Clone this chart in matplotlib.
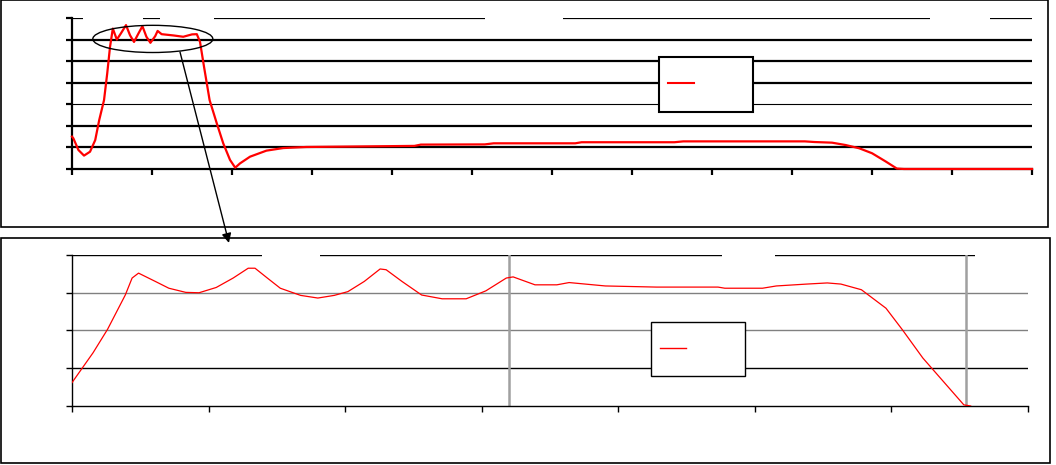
import matplotlib
matplotlib.use('Agg')
import matplotlib.pyplot as plt
from matplotlib.lines import Line2D
from matplotlib.patches import Rectangle, Ellipse, ConnectionPatch

# upper chart: whole run (x in tick units 0..12, y in grid units 0..7)
top_x = [0.0, 0.017, 0.08, 0.15, 0.225, 0.29, 0.34, 0.40, 0.44, 0.475, 0.51,
         0.56, 0.61, 0.675, 0.725, 0.775, 0.83, 0.88, 0.93, 0.98, 1.04, 1.07,
         1.12, 1.27, 1.39, 1.50, 1.56, 1.60, 1.65, 1.72, 1.81, 1.89, 1.975,
         2.04, 2.10, 2.225, 2.43, 2.64, 2.93, 3.48, 4.28, 4.36, 5.16, 5.27,
         6.29, 6.37, 7.53, 7.64, 9.16, 9.28, 9.50, 9.67, 9.84, 10.0, 10.17,
         10.31, 10.40, 12.0]
top_y = [1.5, 1.42, 0.88, 0.62, 0.80, 1.34, 2.27, 3.19, 4.43, 5.66, 6.51,
         6.00, 6.28, 6.67, 6.20, 5.89, 6.28, 6.62, 6.13, 5.85, 6.16, 6.40,
         6.25, 6.19, 6.13, 6.24, 6.25, 5.89, 4.74, 3.19, 2.11, 1.19, 0.42,
         0.06, 0.26, 0.57, 0.85, 0.97, 1.02, 1.04, 1.07, 1.13, 1.14, 1.19,
         1.19, 1.24, 1.24, 1.28, 1.28, 1.25, 1.22, 1.11, 0.96, 0.73, 0.35,
         0.02, 0.0, 0.0]

# lower chart: zoom on the plateau (x in tick units 0..7, y in grid units 0..4)
bot_x = [0.0, 0.154, 0.26, 0.39, 0.44, 0.487, 0.61, 0.709, 0.833, 0.93,
         1.056, 1.18, 1.29, 1.34, 1.43, 1.525, 1.674, 1.80, 1.92, 2.02,
         2.14, 2.256, 2.30, 2.416, 2.56, 2.71, 2.886, 3.03, 3.18, 3.23,
         3.39, 3.55, 3.64, 3.905, 4.28, 4.73, 4.78, 5.056, 5.157, 5.38,
         5.53, 5.63, 5.78, 5.96, 6.08, 6.23, 6.38, 6.53, 6.58]
bot_y = [0.62, 1.41, 2.03, 2.94, 3.39, 3.52, 3.30, 3.12, 3.01, 3.0,
         3.14, 3.39, 3.65, 3.65, 3.39, 3.12, 2.93, 2.86, 2.93, 3.03,
         3.30, 3.63, 3.61, 3.30, 2.94, 2.84, 2.84, 3.05, 3.39, 3.42,
         3.21, 3.21, 3.27, 3.18, 3.15, 3.15, 3.12, 3.12, 3.18, 3.23,
         3.26, 3.23, 3.08, 2.59, 2.02, 1.27, 0.65, 0.03, 0.0]
bot_markers = [3.2, 6.545]

top_grid = [1, 2, 3, 4, 5, 6, 7]
top_grid_lw = [1.6, 1.6, 0.8, 1.6, 1.6, 1.6, 1.6]
bot_grid = [1, 2, 3, 4]
bot_grid_color = ['black', '#808080', '#808080', 'black']

# blank title areas cutting the top grid line (axes fraction)
top_gaps = [(0.0115, 0.074), (0.0917, 0.1479), (0.4302, 0.5115), (0.8938, 0.9563)]
bot_gaps = [(0.1987, 0.2594), (0.6799, 0.7354), (0.9446, 1.0)]

fig = plt.figure(figsize=(10.56, 4.65), dpi=100)

# panel frames
fig.patches.append(Rectangle((0.0005, 0.5118), 0.9915, 0.4872, transform=fig.transFigure,
                             fill=False, edgecolor='black', linewidth=1.2))
fig.patches.append(Rectangle((0.0005, 0.0043), 0.9938, 0.4839, transform=fig.transFigure,
                             fill=False, edgecolor='black', linewidth=1.2))

ax1 = fig.add_axes([0.0682, 0.6366, 0.9091, 0.3247])
ax2 = fig.add_axes([0.0682, 0.1269, 0.9053, 0.3247])


def legend_box(ax, box, line_at, handlelength, lw):
    # empty legend: framed box with only the red line sample
    ax.add_patch(Rectangle(box[:2], box[2], box[3], transform=ax.transAxes,
                           facecolor='white', edgecolor='black', linewidth=lw,
                           zorder=5, clip_on=False))
    leg = ax.legend([Line2D([], [], color='red', linewidth=lw)], [''],
                    loc='center left', bbox_to_anchor=line_at, borderaxespad=0,
                    borderpad=0, handletextpad=0, handlelength=handlelength,
                    fontsize=10, frameon=False)
    leg.set_zorder(6)


# ---- upper chart
for g, lw in zip(top_grid, top_grid_lw):
    ax1.axhline(g, color='black', linewidth=lw, zorder=1)
for a, b in top_gaps:
    ax1.add_patch(Rectangle((a, 0.97), b - a, 0.06, transform=ax1.transAxes,
                            facecolor='white', edgecolor='none', zorder=2, clip_on=False))
ax1.plot(top_x, top_y, color='red', linewidth=1.6, zorder=3, clip_on=False)
ax1.set_xlim(0, 12)
ax1.set_ylim(0, 7)
ax1.set_xticks(range(13))
ax1.set_yticks(range(8))
ax1.set_xticklabels([])
ax1.set_yticklabels([])
for s in ['top', 'right']:
    ax1.spines[s].set_visible(False)
for s in ['left', 'bottom']:
    ax1.spines[s].set_linewidth(1.6)
ax1.tick_params(length=4, width=1.6, direction='out')

ax1.add_patch(Ellipse((1.01, 6.03), 1.5, 1.26, fill=False, edgecolor='black',
                      linewidth=1.0, zorder=4, clip_on=False))
legend_box(ax1, (0.6118, 0.3795, 0.0979, 0.3642), (0.6205, 0.563), 1.92, 1.5)

# ---- lower chart
for g, c in zip(bot_grid, bot_grid_color):
    ax2.axhline(g, color=c, linewidth=1.0, zorder=1)
for a, b in bot_gaps:
    ax2.add_patch(Rectangle((a, 0.97), b - a, 0.06, transform=ax2.transAxes,
                            facecolor='white', edgecolor='none', zorder=2, clip_on=False))
for m in bot_markers:
    ax2.axvline(m, color='#a0a0a0', linewidth=1.8, zorder=2.5)
ax2.plot(bot_x, bot_y, color='red', linewidth=0.9, zorder=3)
ax2.set_xlim(0, 7)
ax2.set_ylim(0, 4)
ax2.set_xticks(range(8))
ax2.set_yticks(range(5))
ax2.set_xticklabels([])
ax2.set_yticklabels([])
for s in ['top', 'right']:
    ax2.spines[s].set_visible(False)
for s in ['left', 'bottom']:
    ax2.spines[s].set_linewidth(1.0)
ax2.tick_params(length=4, width=1.0, direction='out')
legend_box(ax2, (0.6056, 0.1967, 0.0979, 0.3576), (0.6153, 0.3775), 1.89, 1.0)

# arrow from the circled plateau down to the zoomed chart
arrow = ConnectionPatch(xyA=(1.35, 5.42), coordsA=ax1.transData,
                        xyB=(1.149, 4.32), coordsB=ax2.transData,
                        arrowstyle='-|>', mutation_scale=14, color='black', linewidth=1.0)
fig.add_artist(arrow)

plt.savefig('out.png', dpi=100)
plt.close()
